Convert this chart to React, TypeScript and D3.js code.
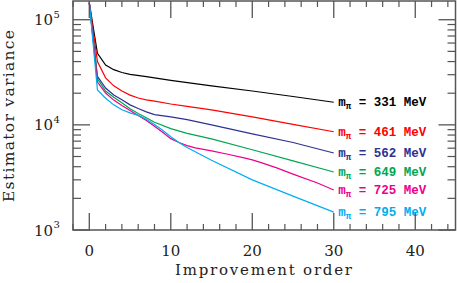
import React from "react";
import * as d3 from "d3";

const W = 457;
const H = 283;

// improvement order points
const orderBlack = [0, 1, 2, 3, 4, 5, 7, 10, 15, 20, 25, 30];
const valBlack = [145000, 48000, 37000, 33500, 31500, 30200, 28800, 26500, 23500, 21000, 18600, 16400];

const orderRed = [0, 1, 2, 3, 4, 5, 6, 7, 8, 10, 12, 15, 20, 25, 30];
const valRed = [145000, 40000, 28000, 23500, 21000, 19200, 18000, 17300, 16800, 15800, 15000, 13900, 11900, 10100, 8600];

const orderBlue = [0, 1, 2, 3, 4, 5, 6, 7, 8, 10, 12, 15, 20, 25, 30];
const valBlue = [145000, 29000, 22400, 19200, 17300, 15500, 14300, 13300, 12500, 11900, 11200, 10000, 8200, 6800, 5400];

const orderGreen = [0, 1, 2, 3, 4, 5, 6, 7, 8, 10, 12, 15, 20, 25, 30];
const valGreen = [145000, 27500, 21000, 18300, 16200, 14200, 12800, 11700, 10600, 9200, 8300, 7350, 5800, 4550, 3560];

const orderMagenta = [0, 1, 2, 3, 4, 5, 6, 7, 8, 9, 10, 11, 12, 13, 15, 17, 19, 20, 21, 23, 25, 28, 30];
const valMagenta = [145000, 25500, 20100, 17200, 15300, 13700, 12300, 11000, 9700, 8500, 7400, 6800, 6350, 6050, 5650, 5250, 4850, 4650, 4400, 3900, 3400, 2800, 2400];

const orderCyan = [0, 1, 2, 3, 4, 5, 6, 7, 8, 9, 10, 11, 12, 15, 20, 25, 30];
const valCyan = [145000, 21500, 17900, 15500, 13900, 13000, 12300, 11300, 10100, 8900, 7700, 6800, 6100, 4600, 3000, 2100, 1480];

const seriesMass = ["331", "461", "562", "649", "725", "795"];
const seriesColor = ["#000000", "#ff0000", "#2e3192", "#00a651", "#ec008c", "#00aeef"];
const seriesOrders = [orderBlack, orderRed, orderBlue, orderGreen, orderMagenta, orderCyan];
const seriesValues = [valBlack, valRed, valBlue, valGreen, valMagenta, valCyan];

const xMajorTicks = [0, 10, 20, 30, 40];
const yDecades = [3, 4, 5];

export default function App() {
  const left = 73, right = 455.5, top = 1, bottom = 230;
  const x = d3.scaleLinear().domain([-2, 45]).range([left, right + 0.5]);
  const y = d3.scaleLog().domain([1000, 150700]).range([bottom, top]);

  const line = d3
    .line<[number, number]>()
    .x((d) => x(d[0]))
    .y((d) => y(d[1]));

  const axisColor = "#555";
  const xMinor = d3.range(-2, 45, 2).filter((v) => v % 10 !== 0);
  const yMinor: number[] = [];
  [3, 4, 5].forEach((e) => {
    for (let m = 2; m <= 9; m++) {
      const v = m * Math.pow(10, e);
      if (v < 150700) yMinor.push(v);
    }
  });

  const serif = "'DejaVu Serif', serif";
  const mono = "'Liberation Mono', monospace";

  return (
    <svg
      width={W}
      height={H}
      style={{ position: "fixed", left: 0, top: 0, background: "#fff" }}
    >
      <rect x={0} y={0} width={W} height={H} fill="#fff" />
      {/* data lines */}
      {seriesOrders.map((ord, i) => {
        const pts = ord.map((o, j) => [o, seriesValues[i][j]] as [number, number]);
        return (
          <path
            key={i}
            d={line(pts) || ""}
            fill="none"
            stroke={seriesColor[i]}
            strokeWidth={1.2}
          />
        );
      })}
      {/* legend labels */}
      {seriesOrders.map((ord, i) => {
        const vals = seriesValues[i];
        const lx = x(ord[ord.length - 1]) + 4.5;
        const ly = y(vals[vals.length - 1]) + 4;
        return (
          <text key={i} x={lx} y={ly} fill={seriesColor[i]} fontFamily={mono} fontSize={12.5} fontWeight="bold">
            m
            <tspan fontSize={9} dy={3}>π</tspan>
            <tspan dy={-3} xmlSpace="preserve">{" = " + seriesMass[i] + " MeV"}</tspan>
          </text>
        );
      })}
      {/* frame */}
      <rect
        x={left}
        y={top}
        width={right - left}
        height={bottom - top}
        fill="none"
        stroke={axisColor}
        strokeWidth={1.5}
      />
      {/* x ticks */}
      {xMajorTicks.map((t) => (
        <g key={"xm" + t}>
          <line x1={x(t)} x2={x(t)} y1={bottom} y2={bottom - 17} stroke={axisColor} strokeWidth={1.3} />
          <line x1={x(t)} x2={x(t)} y1={top} y2={top + 17} stroke={axisColor} strokeWidth={1.3} />
          <text x={x(t)} y={bottom + 26} textAnchor="middle" fontFamily={serif} fontSize={15} fill="#222">
            {t}
          </text>
        </g>
      ))}
      {xMinor.map((t) => (
        <g key={"xn" + t}>
          <line x1={x(t)} x2={x(t)} y1={bottom} y2={bottom - 6} stroke={axisColor} strokeWidth={1.2} />
          <line x1={x(t)} x2={x(t)} y1={top} y2={top + 6} stroke={axisColor} strokeWidth={1.2} />
        </g>
      ))}
      {/* y ticks */}
      {yDecades.map((e) => {
        const v = Math.pow(10, e);
        return (
          <g key={"ym" + e}>
            <line x1={left} x2={left + 17} y1={y(v)} y2={y(v)} stroke={axisColor} strokeWidth={1.3} />
            <line x1={right} x2={right - 17} y1={y(v)} y2={y(v)} stroke={axisColor} strokeWidth={1.3} />
            <text x={53} y={y(v) + 5.5} textAnchor="end" fontFamily={serif} fontSize={15} fill="#222">
              10
            </text>
            <text x={53.5} y={y(v) - 2} textAnchor="start" fontFamily={serif} fontSize={10} fill="#222">
              {e}
            </text>
          </g>
        );
      })}
      {yMinor.map((v) => (
        <g key={"yn" + v}>
          <line x1={left} x2={left + 8} y1={y(v)} y2={y(v)} stroke={axisColor} strokeWidth={1.2} />
          <line x1={right} x2={right - 8} y1={y(v)} y2={y(v)} stroke={axisColor} strokeWidth={1.2} />
        </g>
      ))}
      {/* axis titles */}
      <text
        x={175}
        y={275}
        textAnchor="start"
        fontFamily={serif}
        fontSize={15}
        fill="#222"
        textLength={177}
        lengthAdjust="spacing"
      >
        Improvement order
      </text>
      <text
        transform={`translate(14,202) rotate(-90)`}
        textAnchor="start"
        fontFamily={serif}
        fontSize={15.5}
        fill="#222"
        textLength={172}
        lengthAdjust="spacing"
      >
        Estimator variance
      </text>
    </svg>
  );
}
